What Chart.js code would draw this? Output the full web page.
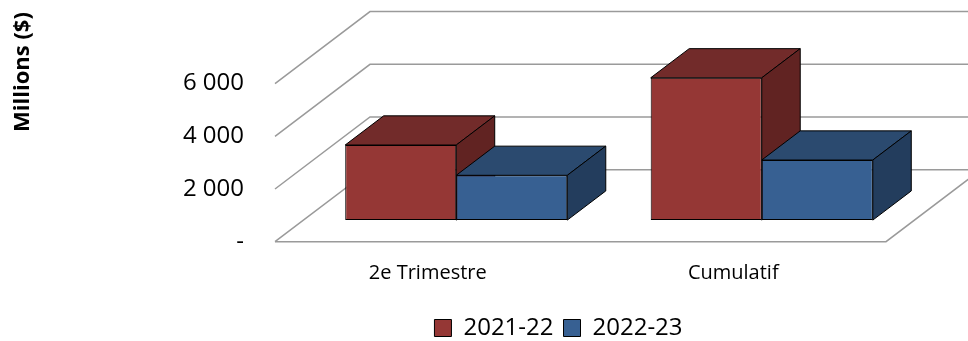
<!DOCTYPE html>
<html lang="fr">
<head>
<meta charset="utf-8">
<title>Millions ($)</title>
<script src="https://cdn.jsdelivr.net/npm/chart.js@4"></script>
<style>
  html, body { margin: 0; padding: 0; background: #fff; }
  #wrap { width: 968px; height: 341px; position: relative; }
</style>
</head>
<body>
<div id="wrap"><canvas id="chart"></canvas></div>
<script>
// values (millions $)
const categories = ['2e Trimestre', 'Cumulatif'];
const seriesNames = ['2021-22', '2022-23'];
const values2021 = [2850, 5400];
const values2022 = [1700, 2280];
const yTicks = [0, 2000, 4000, 6000];

// colours of each box: front, top, side
const redFaces = ['#953735', '#722b2a', '#612322'];
const blueFaces = ['#376092', '#2b4a6f', '#233d5d'];
const faces = [redFaces, blueFaces];

// 3d depth of the floor (pixels) and where the boxes sit in it
const DEPTH_X = 95;
const DEPTH_Y = -72;
const BAR_FRONT = 0.3;
const BAR_BACK = 0.705;

function formatTick(v) {
    if (v === 0) return '-';
    return String(v).replace(/\B(?=(\d{3})+(?!\d))/g, ' ');
}

function poly(ctx, pts, fill) {
    ctx.beginPath();
    ctx.moveTo(pts[0][0], pts[0][1]);
    for (let k = 1; k < pts.length; k++) ctx.lineTo(pts[k][0], pts[k][1]);
    ctx.closePath();
    ctx.fillStyle = fill;
    ctx.fill();
    ctx.stroke();
}

// draws the floor, the back grid and the boxes
const box3d = {
    id: 'box3d',
    afterLayout(chart) {
        // legend sits a little left of the plot centre
        chart.legend.left -= 22;
        chart.legend.right -= 22;
    },
    beforeDatasetsDraw(chart) {
        const ctx = chart.ctx;
        const ys = chart.scales.y;
        const left = chart.chartArea.left;
        const right = chart.chartArea.right;

        ctx.save();
        ctx.strokeStyle = '#9a9a9a';
        ctx.lineWidth = 1.5;
        yTicks.forEach(v => {
            const y = ys.getPixelForValue(v);
            ctx.beginPath();
            ctx.moveTo(left, y);
            ctx.lineTo(left + DEPTH_X, y + DEPTH_Y);
            ctx.lineTo(right + DEPTH_X, y + DEPTH_Y);
            ctx.stroke();
        });
        const y0 = ys.getPixelForValue(0);
        ctx.beginPath();
        ctx.moveTo(left, y0);
        ctx.lineTo(right, y0);
        ctx.lineTo(right + DEPTH_X, y0 + DEPTH_Y);
        ctx.stroke();
        ctx.restore();

        // boxes, left to right so later ones cover the side of earlier ones
        ctx.save();
        ctx.translate(DEPTH_X * BAR_FRONT, DEPTH_Y * BAR_FRONT);
        const dx = DEPTH_X * (BAR_BACK - BAR_FRONT);
        const dy = DEPTH_Y * (BAR_BACK - BAR_FRONT);
        categories.forEach((c, i) => {
            chart.data.datasets.forEach((ds, j) => {
                const bar = chart.getDatasetMeta(j).data[i];
                const {x, y, base, width} = bar.getProps(['x', 'y', 'base', 'width'], true);
                const l = x - width / 2;
                const r = x + width / 2;
                bar.draw(ctx);
                ctx.lineWidth = 1;
                ctx.strokeStyle = '#000';
                ctx.lineJoin = 'round';
                poly(ctx, [[l, y], [r, y], [r + dx, y + dy], [l + dx, y + dy]], faces[j][1]);
                poly(ctx, [[r, y], [r + dx, y + dy], [r + dx, base + dy], [r, base]], faces[j][2]);
            });
        });
        ctx.restore();
        return false; // fronts already drawn above
    },
    afterDraw(chart) {
        // y axis title, placed high like the original
        const ctx = chart.ctx;
        ctx.save();
        ctx.translate(23, 72);
        ctx.rotate(-Math.PI / 2);
        ctx.font = "bold 22px 'Open Sans'";
        ctx.fillStyle = '#000';
        ctx.textAlign = 'center';
        ctx.textBaseline = 'middle';
        ctx.fillText('Millions ($)', 0, 0);
        ctx.restore();
    }
};

Chart.defaults.font.family = "'Open Sans', sans-serif";
Chart.defaults.color = '#000';

new Chart(document.getElementById('chart'), {
    type: 'bar',
    data: {
        labels: categories,
        datasets: [
            {
                label: seriesNames[0],
                data: values2021,
                backgroundColor: redFaces[0],
                borderColor: '#000',
                borderWidth: 1,
                borderSkipped: false
            },
            {
                label: seriesNames[1],
                data: values2022,
                backgroundColor: blueFaces[0],
                borderColor: '#000',
                borderWidth: 1,
                borderSkipped: false
            }
        ]
    },
    options: {
        responsive: true,
        maintainAspectRatio: false,
        animation: false,
        layout: { padding: { top: 83.6, right: 82, bottom: -9, left: 0 } },
        datasets: { bar: { barPercentage: 1, categoryPercentage: 0.727 } },
        scales: {
            x: {
                grid: { display: false },
                border: { display: false },
                ticks: { font: { size: 20 }, padding: 12, maxRotation: 0 },
                afterFit(scale) { scale.height = 64.3; }
            },
            y: {
                min: 0,
                max: 6000,
                afterBuildTicks(scale) { scale.ticks = yTicks.map(v => ({ value: v })); },
                grid: { display: false },
                border: { display: false },
                ticks: { font: { size: 24 }, padding: 23, callback: formatTick },
                afterFit(scale) { scale.width = 275; }
            }
        },
        plugins: {
            legend: {
                position: 'bottom',
                fullSize: false,
                labels: { font: { size: 24 }, boxWidth: 17, boxHeight: 17, padding: 10 }
            },
            tooltip: { enabled: false }
        }
    },
    plugins: [box3d]
});
</script>
</body>
</html>
